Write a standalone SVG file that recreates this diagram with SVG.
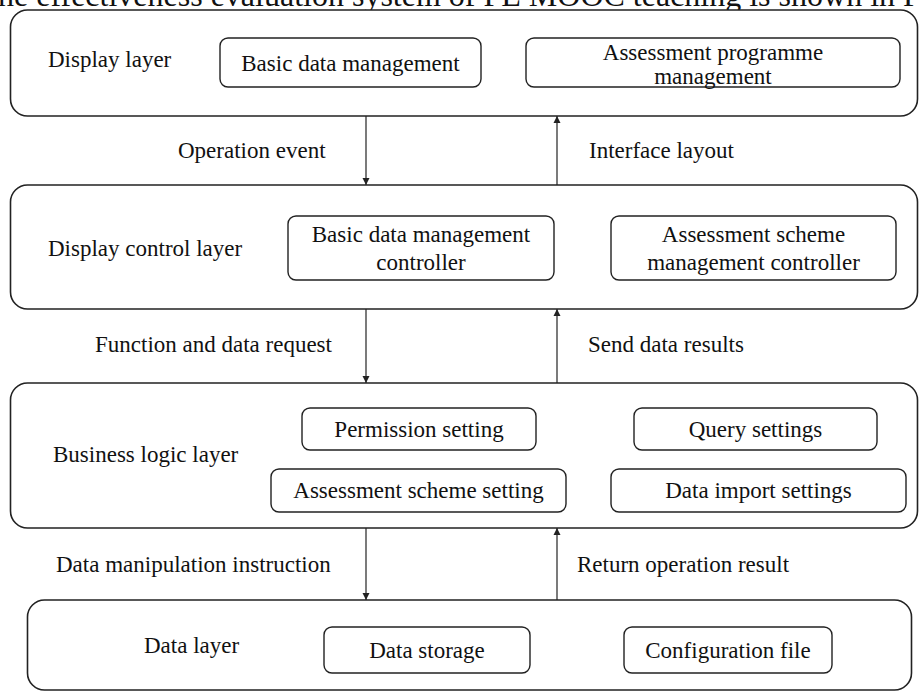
<svg xmlns="http://www.w3.org/2000/svg" width="919" height="691" viewBox="0 0 919 691">
<defs>
<style>
text{font-family:"Liberation Serif","Times New Roman",serif;font-size:23px;fill:#111}
.c{text-anchor:middle}
.layer{fill:#fff;stroke:#222;stroke-width:1.6}
.box{fill:#fff;stroke:#222;stroke-width:1.4}
.conn{stroke:#222;stroke-width:1.2;fill:none;marker-end:url(#ah)}
</style>
<marker id="ah" viewBox="0 0 10 10" refX="10" refY="5" markerWidth="7" markerHeight="11" markerUnits="userSpaceOnUse" orient="auto">
<path d="M0,0 L10,5 L0,10 z" fill="#222"/>
</marker>
</defs>
<rect width="919" height="691" fill="#fff"/>
<text x="-2" y="5.5" style="font-size:32px">he effectiveness evaluation system of PE MOOC teaching is shown in F</text>

<g id="display-layer">
<rect class="layer" x="10.5" y="10" width="907" height="106" rx="17"/>
<text x="48" y="67">Display layer</text>
</g>
<g id="basic-data-management">
<rect class="box" x="220" y="38" width="261" height="49" rx="8"/>
<text class="c" x="350.5" y="71">Basic data management</text>
</g>
<g id="assessment-programme-management">
<rect class="box" x="526" y="38" width="374" height="49" rx="8"/>
<text class="c" x="713" y="60">Assessment programme</text>
<text class="c" x="713" y="84">management</text>
</g>

<g id="display-control-layer">
<rect class="layer" x="10.5" y="185" width="907" height="124" rx="17"/>
<text x="48" y="256">Display control layer</text>
</g>
<g id="basic-data-management-controller">
<rect class="box" x="288" y="216" width="266" height="64" rx="8"/>
<text class="c" x="421" y="242">Basic data management</text>
<text class="c" x="421" y="270">controller</text>
</g>
<g id="assessment-scheme-management-controller">
<rect class="box" x="611" y="216" width="285" height="64" rx="8"/>
<text class="c" x="753.5" y="242">Assessment scheme</text>
<text class="c" x="753.5" y="270">management controller</text>
</g>

<g id="business-logic-layer">
<rect class="layer" x="10.5" y="383" width="907" height="145" rx="17"/>
<text x="53" y="462">Business logic layer</text>
</g>
<g id="permission-setting">
<rect class="box" x="302" y="408" width="234" height="42" rx="8"/>
<text class="c" x="419" y="437">Permission setting</text>
</g>
<g id="query-settings">
<rect class="box" x="634" y="408" width="243" height="42" rx="8"/>
<text class="c" x="755.5" y="437">Query settings</text>
</g>
<g id="assessment-scheme-setting">
<rect class="box" x="271" y="469" width="295" height="43" rx="8"/>
<text class="c" x="418.5" y="498">Assessment scheme setting</text>
</g>
<g id="data-import-settings">
<rect class="box" x="611" y="469" width="295" height="43" rx="8"/>
<text class="c" x="758.5" y="498">Data import settings</text>
</g>

<g id="data-layer">
<rect class="layer" x="27.5" y="600" width="884" height="90" rx="17"/>
<text x="144" y="653">Data layer</text>
</g>
<g id="data-storage">
<rect class="box" x="324" y="627" width="206" height="46" rx="8"/>
<text class="c" x="427" y="658">Data storage</text>
</g>
<g id="configuration-file">
<rect class="box" x="624" y="627" width="208" height="46" rx="8"/>
<text class="c" x="728" y="658">Configuration file</text>
</g>

<g id="connectors">
<line class="conn" x1="366" y1="116" x2="366" y2="185"/>
<line class="conn" x1="557" y1="185" x2="557" y2="116"/>
<line class="conn" x1="366" y1="309" x2="366" y2="383"/>
<line class="conn" x1="557" y1="383" x2="557" y2="309"/>
<line class="conn" x1="366" y1="528" x2="366" y2="600"/>
<line class="conn" x1="557" y1="600" x2="557" y2="528"/>
<text x="178" y="158">Operation event</text>
<text x="589" y="158">Interface layout</text>
<text x="95" y="352">Function and data request</text>
<text x="588" y="352">Send data results</text>
<text x="56" y="572">Data manipulation instruction</text>
<text x="577" y="572">Return operation result</text>
</g>
</svg>
